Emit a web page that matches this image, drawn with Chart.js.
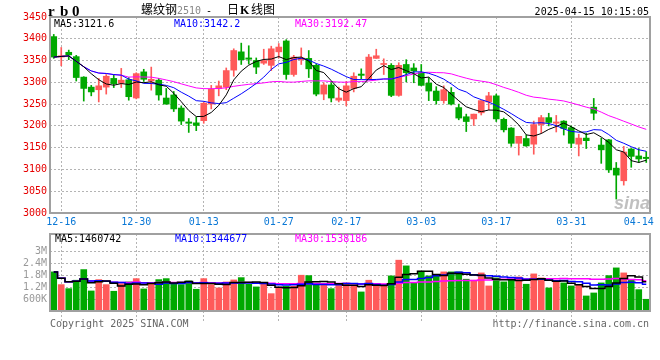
<!DOCTYPE html>
<html lang="zh">
<head>
<meta charset="UTF-8">
<title>螺纹钢2510 - 日K线图</title>
<script src="https://cdn.jsdelivr.net/npm/chart.js"></script>
<style>
  body { margin: 0; background: #fff; }
  #wrap { position: relative; width: 660px; height: 360px; }
  #wrap canvas { position: absolute; left: 0; top: 0; }
</style>
</head>
<body>
<div id="wrap">
  <canvas id="priceChart" width="660" height="360"></canvas>
  <canvas id="volChart" width="660" height="360"></canvas>
</div>
<script>
// trading days shown on the chart
const dates = [
  '12-13','12-16','12-17','12-18','12-19','12-20','12-23','12-24','12-25','12-26','12-27','12-30','12-31',
  '01-02','01-03','01-06','01-07','01-08','01-09','01-10','01-13','01-14','01-15','01-16','01-17',
  '01-20','01-21','01-22','01-23','01-24','01-27',
  '02-05','02-06','02-07','02-10','02-11','02-12','02-13','02-14','02-17','02-18','02-19','02-20',
  '02-21','02-24','02-25','02-26','02-27','02-28',
  '03-03','03-04','03-05','03-06','03-07','03-10','03-11','03-12','03-13','03-14','03-17','03-18',
  '03-19','03-20','03-21','03-24','03-25','03-26','03-27','03-28','03-31',
  '04-01','04-02','04-03','04-07','04-08','04-09','04-10','04-11','04-14','04-15'
];

const opens = [
  3405,3358,3369,3359,3312,3289,3283,3289,3309,3298,3306,3264,3324,3303,3305,3264,3271,3241,3209,3207,
  3212,3250,3286,3289,3328,3370,3356,3350,3344,3339,3370,3395,3318,3352,3355,3339,3273,3294,3259,3258,
  3286,3319,3308,3355,3341,3339,3270,3341,3333,3322,3298,3280,3258,3277,3242,3221,3216,3230,3255,3269,
  3215,3195,3160,3171,3158,3203,3219,3206,3211,3196,3158,3172,3243,3156,3168,3103,3074,3147,3131,3128
];
const highs = [
  3410,3380,3374,3362,3313,3293,3309,3318,3317,3332,3311,3322,3330,3335,3309,3286,3279,3246,3217,3220,
  3254,3293,3303,3333,3377,3390,3384,3356,3376,3383,3389,3398,3362,3379,3373,3342,3299,3299,3289,3302,
  3322,3331,3364,3376,3354,3343,3345,3352,3343,3341,3311,3290,3292,3288,3250,3227,3227,3258,3277,3273,
  3218,3196,3176,3179,3211,3224,3229,3224,3212,3200,3181,3183,3263,3172,3169,3116,3153,3148,3148,3141
];
const lows = [
  3355,3338,3352,3303,3257,3269,3255,3273,3288,3288,3259,3262,3302,3282,3259,3250,3233,3203,3185,3189,
  3206,3239,3269,3283,3314,3341,3342,3320,3341,3327,3356,3307,3314,3341,3311,3269,3260,3255,3255,3246,
  3278,3308,3308,3355,3318,3267,3268,3301,3299,3292,3258,3250,3252,3248,3214,3187,3201,3225,3237,3210,
  3186,3153,3133,3153,3135,3183,3200,3186,3179,3150,3131,3148,3214,3114,3093,3032,3064,3105,3116,3116
];
const closes = [
  3358,3361,3363,3311,3286,3278,3292,3314,3297,3305,3267,3320,3307,3307,3271,3250,3239,3211,3206,3201,
  3252,3284,3292,3327,3373,3352,3353,3335,3350,3377,3381,3318,3358,3356,3331,3273,3294,3264,3264,3292,
  3314,3316,3358,3361,3342,3270,3339,3322,3326,3293,3280,3258,3283,3250,3218,3210,3227,3258,3269,3216,
  3191,3160,3176,3154,3203,3219,3208,3209,3194,3160,3172,3166,3229,3145,3099,3087,3140,3130,3124,3125
];
const volumes = [
  1966000,1326000,1124000,1547000,2082000,1008000,1578000,1326000,993000,1376000,
  1462000,1628000,1109000,1346000,1578000,1628000,1376000,1326000,1512000,1094000,
  1628000,1326000,1159000,1462000,1562000,1678000,1346000,1210000,1346000,872000,
  1200000,1245000,1245000,1799000,1779000,1295000,1295000,1124000,1376000,1411000,
  1295000,958000,1547000,1260000,1346000,1764000,2555000,2268000,1400000,2001000,
  1764000,1764000,1966000,1966000,1966000,1598000,1547000,1915000,1260000,1663000,
  1462000,1547000,1714000,1346000,1865000,1663000,1159000,1462000,1411000,1260000,
  1295000,756000,907000,1411000,1779000,2167000,1915000,1578000,1074000,590000
];

const dateTicks = ['12-16','12-30','01-13','01-27','02-17','03-03','03-17','03-31','04-14'];
const priceTicks = [3000,3050,3100,3150,3200,3250,3300,3350,3400,3450];
const volTicks = [600000,1200000,1800000,2400000,3000000];
const volTickLabels = ['600K','1.2M','1.8M','2.4M','3M'];

const UP = '#ff5a5a', DOWN = '#00a800';
const GRID = '#b4b4b4';
const MONO = '"DejaVu Sans Mono", monospace';

function movingAvg(arr, n) {
  return arr.map((_, i) => {
    const s = arr.slice(Math.max(0, i - n + 1), i + 1);
    return s.reduce((a, b) => a + b, 0) / s.length;
  });
}

const candleColors = closes.map((c, i) => c >= opens[i] ? UP : DOWN);
const gridColor = c => (c.tick && dates[c.tick.value] === '04-14') ? 'rgba(0,0,0,0)' : GRID;
const keepDateTicks = axis => {
  axis.ticks = axis.ticks.filter(t => dateTicks.includes(dates[t.value]));
};

const framePlugin = {
  id: 'frame',
  afterDraw(chart) {
    const {ctx, chartArea: a} = chart;
    ctx.save();
    ctx.strokeStyle = '#a0a0a0';
    ctx.lineWidth = 2;
    ctx.strokeRect(a.left, a.top, a.right - a.left, a.bottom - a.top);
    ctx.restore();
  }
};

const priceText = {
  id: 'priceText',
  afterDraw(chart) {
    const ctx = chart.ctx;
    ctx.save();
    ctx.textBaseline = 'alphabetic';
    ctx.fillStyle = '#000';
    ctx.font = 'bold 15px "Liberation Serif"';
    ctx.fillText('r', 48, 16);
    ctx.fillText('b', 60, 16);
    ctx.fillText('0', 72, 16);

    ctx.font = '12px "Noto Sans CJK SC"';
    ctx.fillText('螺纹钢', 141, 14);
    ctx.fillStyle = '#888';
    ctx.font = '10px ' + MONO;
    ctx.fillText('2510', 177, 14);
    ctx.fillStyle = '#000';
    ctx.fillText('-', 206, 14);
    ctx.font = '12px "Noto Sans CJK SC"';
    ctx.fillText('日', 227, 14);
    ctx.font = 'bold 12px "Liberation Serif"';
    ctx.fillText('K', 240, 14);
    ctx.font = '12px "Noto Sans CJK SC"';
    ctx.fillText('线图', 251, 14);

    ctx.font = '10px ' + MONO;
    ctx.textAlign = 'right';
    ctx.fillText('2025-04-15 10:15:05', 649, 15);
    ctx.textAlign = 'left';

    ctx.fillStyle = '#000';
    ctx.fillText('MA5:3121.6', 54, 27);
    ctx.fillStyle = '#0000ff';
    ctx.fillText('MA10:3142.2', 174, 27);
    ctx.fillStyle = '#ff00ff';
    ctx.fillText('MA30:3192.47', 295, 27);

    ctx.fillStyle = 'rgba(140,140,140,0.55)';
    ctx.font = 'italic bold 18px "Liberation Sans"';
    ctx.fillText('sina', 614, 209);
    ctx.restore();
  }
};

const volText = {
  id: 'volText',
  afterDraw(chart) {
    const ctx = chart.ctx;
    ctx.save();
    ctx.font = '10px ' + MONO;
    ctx.fillStyle = '#000';
    ctx.fillText('MA5:1460742', 55, 242);
    ctx.fillStyle = '#0000ff';
    ctx.fillText('MA10:1344677', 175, 242);
    ctx.fillStyle = '#ff00ff';
    ctx.fillText('MA30:1538186', 295, 242);
    ctx.fillStyle = '#666';
    ctx.fillText('Copyright 2025 SINA.COM', 50, 327);
    ctx.textAlign = 'right';
    ctx.fillText('http://finance.sina.com.cn', 649, 327);
    ctx.restore();
  }
};

function maLine(label, data, color, width, stepped) {
  return {
    type: 'line', label, data,
    borderColor: color, borderWidth: width,
    pointRadius: 0, fill: false, tension: 0,
    stepped: stepped || false, order: 1
  };
}

// price panel
new Chart(document.getElementById('priceChart'), {
  type: 'bar',
  data: {
    labels: dates,
    datasets: [
      maLine('MA5', movingAvg(closes, 5), '#000', 1),
      maLine('MA10', movingAvg(closes, 10), '#0000ff', 1),
      maLine('MA30', movingAvg(closes, 30), '#ff00ff', 1),
      {
        label: 'body',
        data: opens.map((o, i) => [o, closes[i]]),
        backgroundColor: candleColors,
        barThickness: 6, minBarLength: 1, grouped: false, order: 2
      },
      {
        label: 'wick',
        data: lows.map((l, i) => [l, highs[i]]),
        backgroundColor: candleColors,
        barThickness: 1, grouped: false, order: 3
      }
    ]
  },
  options: {
    responsive: false,
    animation: false,
    devicePixelRatio: 1,
    layout: { padding: { left: 0, right: 10, top: 17, bottom: 127 } },
    plugins: { legend: { display: false }, tooltip: { enabled: false } },
    scales: {
      x: {
        offset: true,
        grid: { offset: false, color: gridColor, drawTicks: false },
        border: { display: false, dash: [2, 2] },
        ticks: {
          autoSkip: false, maxRotation: 0, padding: 3,
          color: '#0a78d6', font: { family: MONO, size: 10 }
        },
        afterBuildTicks: keepDateTicks,
        afterFit: s => { s.height = 20; }
      },
      y: {
        min: 3000, max: 3450,
        grid: { color: GRID, drawTicks: false },
        border: { display: false, dash: [2, 2] },
        ticks: {
          padding: 3, color: '#e60000', font: { family: MONO, size: 10 },
          callback: v => String(v)
        },
        afterBuildTicks: s => { s.ticks = priceTicks.map(v => ({ value: v })); },
        afterFit: s => { s.width = 50; }
      }
    }
  },
  plugins: [framePlugin, priceText]
});

// volume panel
new Chart(document.getElementById('volChart'), {
  type: 'bar',
  data: {
    labels: dates,
    datasets: [
      maLine('MA5', movingAvg(volumes, 5), '#000', 1.5, 'middle'),
      maLine('MA10', movingAvg(volumes, 10), '#0000ff', 1.5, 'middle'),
      maLine('MA30', movingAvg(volumes, 30), '#ff00ff', 1.5, 'middle'),
      {
        label: 'volume',
        data: volumes,
        backgroundColor: candleColors,
        barThickness: 6, order: 2
      }
    ]
  },
  options: {
    responsive: false,
    animation: false,
    devicePixelRatio: 1,
    layout: { padding: { left: 0, right: 10, top: 234, bottom: 39 } },
    plugins: { legend: { display: false }, tooltip: { enabled: false } },
    scales: {
      x: {
        offset: true,
        grid: {
          offset: false, color: gridColor, drawTicks: true, tickLength: 10,
          tickColor: gridColor, tickBorderDash: [2, 2]
        },
        border: { display: false, dash: [2, 2] },
        ticks: { display: false, autoSkip: false },
        afterBuildTicks: keepDateTicks,
        afterFit: s => { s.height = 10; }
      },
      y: {
        min: 0, max: 3870000,
        grid: { color: GRID, drawTicks: false },
        border: { display: false, dash: [2, 2] },
        ticks: {
          padding: 3, color: '#999', font: { family: MONO, size: 10 },
          callback: v => volTickLabels[volTicks.indexOf(v)]
        },
        afterBuildTicks: s => { s.ticks = volTicks.map(v => ({ value: v })); },
        afterFit: s => { s.width = 50; }
      }
    }
  },
  plugins: [framePlugin, volText]
});
</script>
</body>
</html>
